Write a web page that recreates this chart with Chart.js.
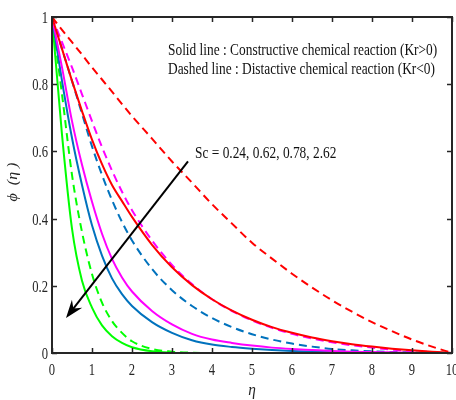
<!DOCTYPE html>
<html>
<head>
<meta charset="utf-8">
<script src="https://cdn.jsdelivr.net/npm/chart.js@4/dist/chart.umd.min.js"></script>
<style>
  html, body { margin: 0; padding: 0; background: #ffffff; }
  canvas { display: block; }
</style>
</head>
<body>
<canvas id="chart" width="456" height="400"></canvas>
<script>
// Similarity variable η (shared grid for all profiles)
const eta = [0, 0.25, 0.5, 0.75, 1, 1.25, 1.5, 1.75, 2, 2.5, 3, 3.5, 4, 4.5, 5, 5.5, 6, 6.5, 7, 7.5, 8, 8.5, 9, 9.5, 10];

// Concentration profiles φ(η), constructive reaction (Kr>0)
const phiKrPosSc024 = [1, 0.905, 0.81, 0.72, 0.635, 0.562, 0.5, 0.452, 0.405, 0.322, 0.255, 0.202, 0.16, 0.126, 0.099, 0.077, 0.06, 0.046, 0.035, 0.026, 0.019, 0.013, 0.008, 0.004, 0];
const phiKrPosSc062 = [1, 0.85, 0.69, 0.56, 0.45, 0.355, 0.28, 0.225, 0.183, 0.125, 0.085, 0.057, 0.04, 0.03, 0.022, 0.016, 0.012, 0.009, 0.006, 0.004, 0.003, 0.002, 0.001, 0, 0];
const phiKrPosSc078 = [1, 0.81, 0.64, 0.5, 0.38, 0.29, 0.222, 0.175, 0.14, 0.092, 0.06, 0.038, 0.025, 0.018, 0.013, 0.009, 0.006, 0.004, 0.003, 0.002, 0.001, 0, 0, 0, 0];
const phiKrPosSc262 = [1, 0.65, 0.37, 0.215, 0.135, 0.082, 0.05, 0.03, 0.017, 0.005, 0.001, 0, 0, 0, 0, 0, 0, 0, 0, 0, 0, 0, 0, 0, 0];

// Concentration profiles φ(η), destructive reaction (Kr<0)
const phiKrNegSc024 = [1, 0.962, 0.925, 0.888, 0.85, 0.814, 0.778, 0.741, 0.705, 0.638, 0.57, 0.507, 0.443, 0.385, 0.328, 0.281, 0.236, 0.195, 0.157, 0.123, 0.092, 0.065, 0.04, 0.019, 0];
const phiKrNegSc062 = [1, 0.925, 0.85, 0.77, 0.69, 0.613, 0.543, 0.48, 0.425, 0.335, 0.262, 0.205, 0.16, 0.125, 0.097, 0.075, 0.057, 0.043, 0.032, 0.023, 0.016, 0.01, 0.006, 0.003, 0];
const phiKrNegSc078 = [1, 0.905, 0.81, 0.712, 0.615, 0.53, 0.455, 0.39, 0.335, 0.25, 0.187, 0.14, 0.104, 0.077, 0.056, 0.04, 0.028, 0.019, 0.012, 0.008, 0.005, 0.003, 0.002, 0.001, 0];
const phiKrNegSc262 = [1, 0.77, 0.53, 0.36, 0.235, 0.15, 0.095, 0.06, 0.035, 0.012, 0.004, 0.001, 0, 0, 0, 0, 0, 0, 0, 0, 0, 0, 0, 0, 0];

// Axis ticks
const etaTicks = [0, 1, 2, 3, 4, 5, 6, 7, 8, 9, 10];
const phiTicks = [0, 0.2, 0.4, 0.6, 0.8, 1];
const etaTickLabels = ['0', '1', '2', '3', '4', '5', '6', '7', '8', '9', '10'];
const phiTickLabels = ['0', '0.2', '0.4', '0.6', '0.8', '1'];

// Texts
const noteSolid = 'Solid line : Constructive chemical reaction (Kr>0)';
const noteDashed = 'Dashed line : Distactive chemical reaction (Kr<0)';
const noteSc = 'Sc = 0.24, 0.62, 0.78, 2.62';
const xTitle = 'η';
const yTitle = 'ϕ  (η )';

// Annotation anchors in data units [η, φ]
const notePosSolid = [2.9, 0.888];
const notePosDashed = [2.9, 0.830];
const notePosSc = [3.575, 0.58];
const arrowTail = [3.4, 0.57];
const arrowTip = [0.35, 0.104];

const RED = '#ff0000', MAGENTA = '#ff00ff', BLUE = '#0072bd', GREEN = '#00ff00';
const AXIS = '#262626';
const DASH = [8, 5];

function series(values, color, dashed) {
  return {
    data: eta.map((x, i) => ({ x: x, y: values[i] })),
    borderColor: color,
    borderWidth: 2,
    borderDash: dashed ? DASH : [],
    pointRadius: 0,
    fill: false,
    cubicInterpolationMode: 'monotone'
  };
}

// Condensed serif text helper
function drawText(ctx, str, x, y, size, sx, align, italic) {
  ctx.save();
  ctx.translate(x, y);
  ctx.scale(sx, 1);
  ctx.font = (italic ? 'italic ' : '') + size + 'px "Liberation Serif", "Times New Roman", serif';
  ctx.textAlign = align;
  ctx.textBaseline = 'alphabetic';
  ctx.fillText(str, 0, 0);
  ctx.restore();
}

const decorations = {
  id: 'decorations',
  afterDatasetsDraw(chart) {
    const ctx = chart.ctx;
    const xs = chart.scales.x, ys = chart.scales.y;
    const a = chart.chartArea;
    ctx.save();

    // Box frame
    ctx.strokeStyle = AXIS;
    ctx.lineWidth = 2;
    ctx.strokeRect(a.left, a.top, a.right - a.left, a.bottom - a.top);

    // Inward tick marks on all four sides
    ctx.lineWidth = 1.5;
    ctx.beginPath();
    etaTicks.forEach(v => {
      const px = Math.round(xs.getPixelForValue(v)) + 0.5;
      ctx.moveTo(px, a.bottom); ctx.lineTo(px, a.bottom - 5);
      ctx.moveTo(px, a.top); ctx.lineTo(px, a.top + 5);
    });
    phiTicks.forEach(v => {
      const py = Math.round(ys.getPixelForValue(v)) + 0.5;
      ctx.moveTo(a.left, py); ctx.lineTo(a.left + 5, py);
      ctx.moveTo(a.right, py); ctx.lineTo(a.right - 5, py);
    });
    ctx.stroke();

    // Tick labels
    ctx.fillStyle = AXIS;
    etaTicks.forEach((v, i) => {
      drawText(ctx, etaTickLabels[i], xs.getPixelForValue(v), a.bottom + 22, 17.5, 0.72, 'center', false);
    });
    phiTicks.forEach((v, i) => {
      drawText(ctx, phiTickLabels[i], a.left - 4, ys.getPixelForValue(v) + 6, 17.5, 0.72, 'right', false);
    });

    // Axis titles
    drawText(ctx, xTitle, (a.left + a.right) / 2, 395, 17, 0.9, 'center', true);
    ctx.save();
    ctx.translate(17, 182);
    ctx.rotate(-Math.PI / 2);
    ctx.scale(1, 0.85);
    ctx.font = 'italic 16px "Liberation Serif", "DejaVu Serif", serif';
    ctx.textAlign = 'center';
    ctx.textBaseline = 'alphabetic';
    ctx.fillText(yTitle, 0, 0);
    ctx.restore();

    // Line-style notes
    ctx.fillStyle = '#111111';
    drawText(ctx, noteSolid, xs.getPixelForValue(notePosSolid[0]), ys.getPixelForValue(notePosSolid[1]), 17.5, 0.765, 'left', false);
    drawText(ctx, noteDashed, xs.getPixelForValue(notePosDashed[0]), ys.getPixelForValue(notePosDashed[1]), 17.5, 0.765, 'left', false);
    drawText(ctx, noteSc, xs.getPixelForValue(notePosSc[0]), ys.getPixelForValue(notePosSc[1]), 17.5, 0.765, 'left', false);

    // Arrow showing increasing Sc
    const tx = xs.getPixelForValue(arrowTail[0]), ty = ys.getPixelForValue(arrowTail[1]);
    const hx = xs.getPixelForValue(arrowTip[0]), hy = ys.getPixelForValue(arrowTip[1]);
    const len = Math.hypot(hx - tx, hy - ty);
    const dx = (hx - tx) / len, dy = (hy - ty) / len;
    const nx = -dy, ny = dx;
    ctx.strokeStyle = '#000000';
    ctx.fillStyle = '#000000';
    ctx.lineWidth = 2;
    ctx.beginPath();
    ctx.moveTo(tx, ty);
    ctx.lineTo(hx - dx * 10, hy - dy * 10);
    ctx.stroke();
    ctx.beginPath();
    ctx.moveTo(hx, hy);
    ctx.lineTo(hx - dx * 18 + nx * 6.5, hy - dy * 18 + ny * 6.5);
    ctx.lineTo(hx - dx * 12, hy - dy * 12);
    ctx.lineTo(hx - dx * 18 - nx * 6.5, hy - dy * 18 - ny * 6.5);
    ctx.closePath();
    ctx.fill();

    ctx.restore();
  }
};

new Chart(document.getElementById('chart'), {
  type: 'line',
  data: {
    datasets: [
      series(phiKrNegSc024, RED, true),
      series(phiKrPosSc024, RED, false),
      series(phiKrNegSc062, MAGENTA, true),
      series(phiKrPosSc062, MAGENTA, false),
      series(phiKrNegSc078, BLUE, true),
      series(phiKrPosSc078, BLUE, false),
      series(phiKrNegSc262, GREEN, true),
      series(phiKrPosSc262, GREEN, false)
    ]
  },
  options: {
    responsive: false,
    animation: false,
    events: [],
    layout: { padding: { top: 17, right: 4, left: 0, bottom: 0 } },
    plugins: { legend: { display: false }, tooltip: { enabled: false }, title: { display: false } },
    scales: {
      x: {
        type: 'linear', min: 0, max: 10,
        afterBuildTicks: s => { s.ticks = etaTicks.map(v => ({ value: v })); },
        ticks: { display: false },
        grid: { display: false, drawTicks: false },
        border: { display: false },
        afterFit: s => { s.height = 47; s.paddingLeft = 0; s.paddingRight = 0; }
      },
      y: {
        type: 'linear', min: 0, max: 1,
        afterBuildTicks: s => { s.ticks = phiTicks.map(v => ({ value: v })); },
        ticks: { display: false },
        grid: { display: false, drawTicks: false },
        border: { display: false },
        afterFit: s => { s.width = 52; s.paddingTop = 0; s.paddingBottom = 0; }
      }
    }
  },
  plugins: [decorations]
});
</script>
</body>
</html>
